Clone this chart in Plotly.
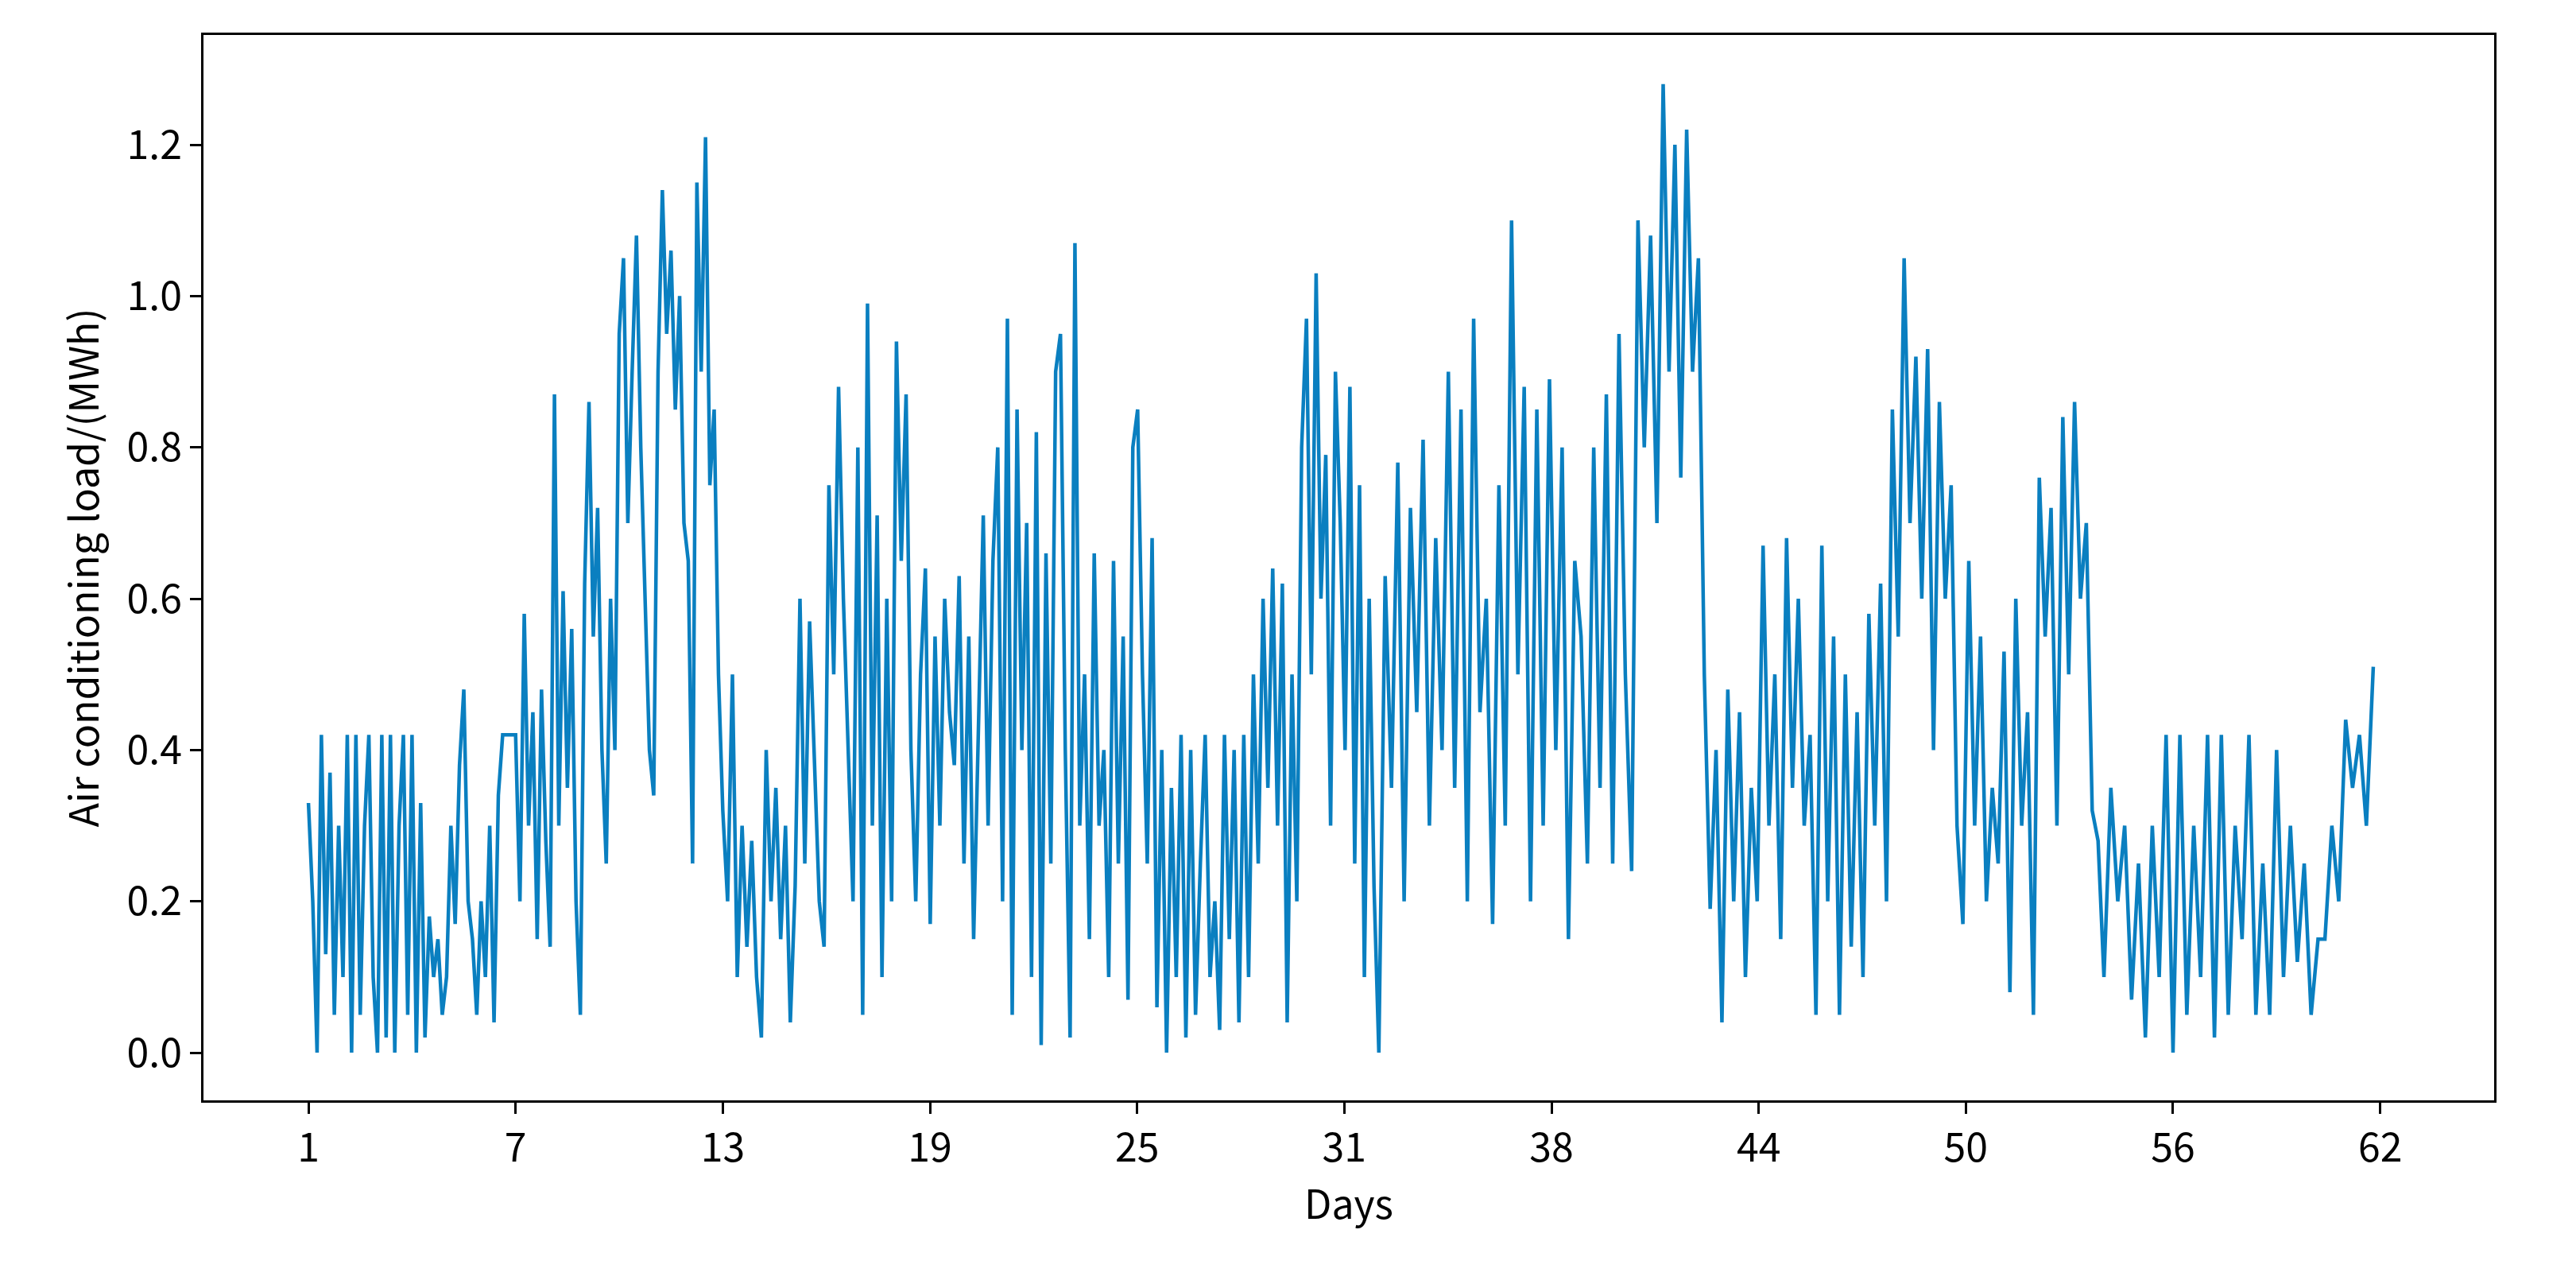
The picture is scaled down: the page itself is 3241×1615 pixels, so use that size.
import numpy as np
import plotly.graph_objects as go

# 3-hourly samples (8 per block)
load = [
    0.33,0.2,0.0,0.42,0.13,0.37,0.05,0.3,
    0.1,0.42,0.0,0.42,0.05,0.3,0.42,0.1,
    0.0,0.42,0.02,0.42,0.0,0.3,0.42,0.05,
    0.42,0.0,0.33,0.02,0.18,0.1,0.15,0.05,
    0.1,0.3,0.17,0.38,0.48,0.2,0.15,0.05,
    0.2,0.1,0.3,0.04,0.34,0.42,0.42,0.42,
    0.42,0.2,0.58,0.3,0.45,0.15,0.48,0.28,
    0.14,0.87,0.3,0.61,0.35,0.56,0.2,0.05,
    0.62,0.86,0.55,0.72,0.4,0.25,0.6,0.4,
    0.95,1.05,0.7,0.9,1.08,0.8,0.6,0.4,
    0.34,0.9,1.14,0.95,1.06,0.85,1.0,0.7,
    0.65,0.25,1.15,0.9,1.21,0.75,0.85,0.5,
    0.32,0.2,0.5,0.1,0.3,0.14,0.28,0.1,
    0.02,0.4,0.2,0.35,0.15,0.3,0.04,0.22,
    0.6,0.25,0.57,0.4,0.2,0.14,0.75,0.5,
    0.88,0.6,0.4,0.2,0.8,0.05,0.99,0.3,
    0.71,0.1,0.6,0.2,0.94,0.65,0.87,0.4,
    0.2,0.5,0.64,0.17,0.55,0.3,0.6,0.45,
    0.38,0.63,0.25,0.55,0.15,0.45,0.71,0.3,
    0.65,0.8,0.2,0.97,0.05,0.85,0.4,0.7,
    0.1,0.82,0.01,0.66,0.25,0.9,0.95,0.4,
    0.02,1.07,0.3,0.5,0.15,0.66,0.3,0.4,
    0.1,0.65,0.25,0.55,0.07,0.8,0.85,0.5,
    0.25,0.68,0.06,0.4,0.0,0.35,0.1,0.42,
    0.02,0.4,0.05,0.25,0.42,0.1,0.2,0.03,
    0.42,0.15,0.4,0.04,0.42,0.1,0.5,0.25,
    0.6,0.35,0.64,0.3,0.62,0.04,0.5,0.2,
    0.8,0.97,0.5,1.03,0.6,0.79,0.3,0.9,
    0.7,0.4,0.88,0.25,0.75,0.1,0.6,0.22,
    0.0,0.63,0.35,0.78,0.2,0.72,0.45,0.81,
    0.3,0.68,0.4,0.9,0.35,0.85,0.2,0.97,
    0.45,0.6,0.17,0.75,0.3,1.1,0.5,0.88,
    0.2,0.85,0.3,0.89,0.4,0.8,0.15,0.65,
    0.55,0.25,0.8,0.35,0.87,0.25,0.95,0.5,
    0.24,1.1,0.8,1.08,0.7,1.28,0.9,1.2,
    0.76,1.22,0.9,1.05,0.5,0.19,0.4,0.04,
    0.48,0.2,0.45,0.1,0.35,0.2,0.67,0.3,
    0.5,0.15,0.68,0.35,0.6,0.3,0.42,0.05,
    0.67,0.2,0.55,0.05,0.5,0.14,0.45,0.1,
    0.58,0.3,0.62,0.2,0.85,0.55,1.05,0.7,
    0.92,0.6,0.93,0.4,0.86,0.6,0.75,0.3,
    0.17,0.65,0.3,0.55,0.2,0.35,0.25,0.53,
    0.08,0.6,0.3,0.45,0.05,0.76,0.55,0.72,
    0.3,0.84,0.5,0.86,0.6,0.7,0.32,0.28,
    0.1,0.35,0.2,0.3,0.07,0.25,0.02,0.3,
    0.1,0.42,0.0,0.42,0.05,0.3,0.1,0.42,
    0.02,0.42,0.05,0.3,0.15,0.42,0.05,0.25,
    0.05,0.4,0.1,0.3,0.12,0.25,0.05,0.15,
    0.15,0.3,0.2,0.44,0.35,0.42,0.3,0.51,
]

# block index -> day on the chart's axis
block_anchor = [1, 13, 30, 35.6, 45, 50]
day_anchor = [1, 13, 32, 40.2, 53, 61]

tick_pos = [1, 7, 13, 19, 25, 31, 37, 43, 49, 55, 61]
tick_labels = ["1", "7", "13", "19", "25", "31", "38", "44", "50", "56", "62"]

blocks = 1 + np.arange(len(load)) / 8
days = np.interp(blocks, block_anchor, day_anchor)

font = "Noto Sans CJK SC"
fig = go.Figure(go.Scatter(x=days, y=load, mode="lines",
                           line=dict(color="#0a7fc0", width=4.5)))

axis = dict(showgrid=False, zeroline=False, showline=True, mirror=True,
            linecolor="black", linewidth=3, ticks="outside", ticklen=14, tickwidth=3,
            tickcolor="black", tickfont=dict(family=font, size=50, color="black"))

fig.update_layout(
    width=3241, height=1615,
    plot_bgcolor="white", paper_bgcolor="white",
    margin=dict(l=248, r=3241 - 3130, t=36, b=1615 - 1376),
    showlegend=False,
    xaxis=dict(axis, range=[-2.04, 64.3], tickvals=tick_pos, ticktext=tick_labels,
               title=dict(text="Days", font=dict(family=font, size=50, color="black"), standoff=6)),
    yaxis=dict(axis, range=[-0.063, 1.345], tickvals=[0, 0.2, 0.4, 0.6, 0.8, 1.0, 1.2],
               tickformat=".1f",
               title=dict(text="Air conditioning load/(MWh)",
                          font=dict(family=font, size=50, color="black"), standoff=20)),
)

fig.write_html("out.html")
